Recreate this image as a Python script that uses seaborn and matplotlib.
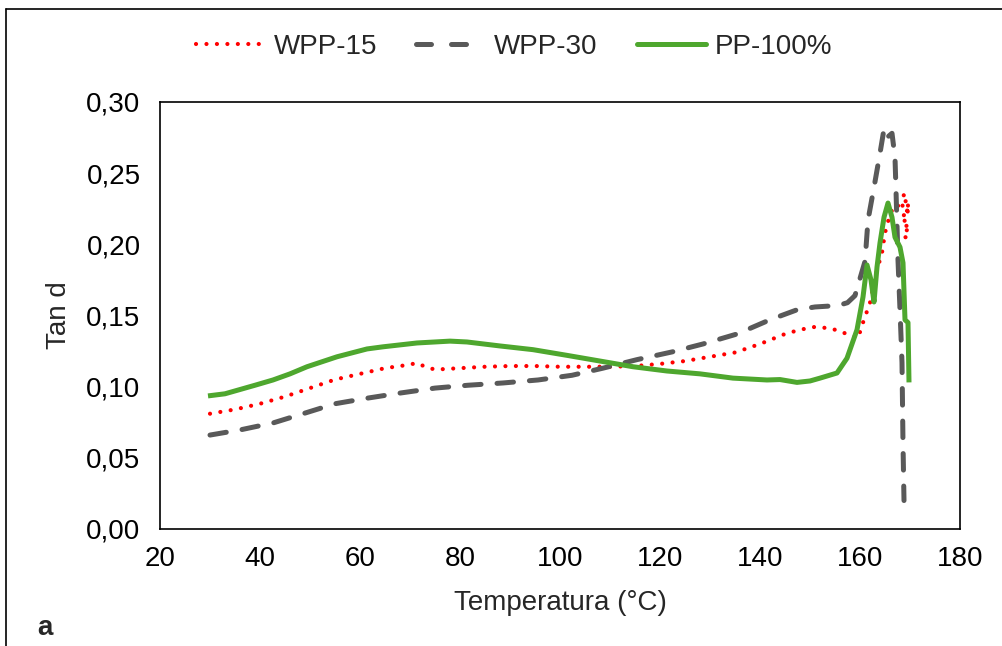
import numpy as np
import pandas as pd
import matplotlib
matplotlib.use("Agg")
import matplotlib.pyplot as plt
import seaborn as sns
from matplotlib.lines import Line2D
from matplotlib.ticker import FuncFormatter, MultipleLocator

# ---------------- data ----------------
wpp15_T = [30, 35, 40, 45, 50, 55, 60, 65, 69, 71.5, 73, 75, 80, 85, 90, 95, 100,
           105, 110, 115, 120, 125, 130, 135, 140, 145, 148, 151, 154, 156, 158,
           159.6, 160.6, 162, 163.4, 164.4, 165, 165.6, 166.6, 167.4, 168.4, 168.8,
           169.6, 168.6, 169.8, 168.6, 170.0, 168.6, 170.2]
wpp15_v = [0.081, 0.084, 0.088, 0.093, 0.099, 0.105, 0.109, 0.113, 0.115, 0.1166,
           0.114, 0.112, 0.113, 0.114, 0.1145, 0.1145, 0.114, 0.114, 0.114, 0.1145,
           0.116, 0.118, 0.121, 0.124, 0.130, 0.137, 0.140, 0.142, 0.141, 0.139,
           0.136, 0.134, 0.145, 0.159, 0.182, 0.194, 0.208, 0.216, 0.226, 0.228,
           0.224, 0.236, 0.222, 0.219, 0.229, 0.212, 0.214, 0.205, 0.205]

wpp30_T = [30, 36, 42.6, 48.6, 55, 61.6, 68, 75, 81.6, 88.6, 95.6, 102.4, 108.6,
           115.4, 122.4, 128.6, 135.4, 142, 147.4, 151, 155.6, 157.5, 159, 161,
           161.6, 163, 164, 164.8, 165.4, 166.4, 167, 167.2, 167.6, 168, 168.4,
           168.6, 168.8]
wpp30_v = [0.066, 0.0696, 0.0745, 0.081, 0.088, 0.092, 0.0955, 0.099, 0.101,
           0.1026, 0.1047, 0.108, 0.113, 0.119, 0.1244, 0.130, 0.137, 0.147, 0.154,
           0.156, 0.157, 0.159, 0.164, 0.188, 0.217, 0.244, 0.264, 0.281, 0.275,
           0.278, 0.261, 0.238, 0.189, 0.154, 0.117, 0.060, 0.020]

pp100_T = [29.6, 33, 36, 39, 42.6, 46, 49.4, 55.4, 61.4, 64.6, 71.4, 78, 81.4, 88,
           94.6, 101.4, 108, 114.6, 121.4, 128, 134.6, 141.4, 144, 147.4, 150, 152,
           155.4, 157.4, 159.4, 160.6, 161.4, 162.2, 162.8, 163.4, 164, 164.8,
           165.6, 166.4, 167, 168, 168.6, 169, 169.6, 169.8]
pp100_v = [0.0935, 0.095, 0.098, 0.101, 0.1047, 0.109, 0.114, 0.121, 0.1265, 0.128,
           0.1307, 0.132, 0.1314, 0.1286, 0.126, 0.122, 0.118, 0.114, 0.111, 0.109,
           0.106, 0.1047, 0.105, 0.103, 0.104, 0.106, 0.1096, 0.12, 0.140, 0.163,
           0.1855, 0.175, 0.1595, 0.184, 0.201, 0.219, 0.229, 0.219, 0.205, 0.198,
           0.187, 0.147, 0.145, 0.103]

series_labels = ["WPP-15", "WPP-30", "PP-100%"]
x_ticks = [20, 40, 60, 80, 100, 120, 140, 160, 180]

# ---------------- style ----------------
sns.set_style("white")
plt.rcParams['font.family'] = ['Liberation Sans', 'DejaVu Sans']

fig = plt.figure(figsize=(10.02, 6.46), dpi=100)
ax = fig.add_axes([160 / 1002, 1 - 529 / 646, 800 / 1002, 427 / 646])

red = "#FF0000"
gray = "#595959"
green = "#4EA72E"

d1 = pd.DataFrame({"T": wpp15_T, "v": wpp15_v})
d2 = pd.DataFrame({"T": wpp30_T, "v": wpp30_v})
d3 = pd.DataFrame({"T": pp100_T, "v": pp100_v})

sns.lineplot(data=d1, x="T", y="v", ax=ax, sort=False, estimator=None, color=red,
             linewidth=3.0, linestyle=(0, (0.01, 2.5)), dash_capstyle="round")
sns.lineplot(data=d2, x="T", y="v", ax=ax, sort=False, estimator=None, color=gray,
             linewidth=3.6, linestyle=(0, (3.3, 3.2)), dash_capstyle="round")
sns.lineplot(data=d3, x="T", y="v", ax=ax, sort=False, estimator=None, color=green,
             linewidth=3.6, solid_capstyle="butt", solid_joinstyle="round")

ax.set_xlim(20, 180)
ax.set_ylim(0, 0.30)
ax.set_xticks(x_ticks)
ax.yaxis.set_major_locator(MultipleLocator(0.05))
ax.yaxis.set_major_formatter(FuncFormatter(lambda v, p: f"{v:.2f}".replace(".", ",")))
ax.tick_params(axis="both", length=0, labelsize=20, colors="black")
ax.tick_params(axis="y", pad=14)
ax.tick_params(axis="x", pad=12)
for s in ax.spines.values():
    s.set_visible(True)
    s.set_color("black")
    s.set_linewidth(1.2)

ax.set_xlabel("Temperatura (°C)", fontsize=20, labelpad=13)
ax.set_ylabel("Tan d", fontsize=20, labelpad=10)

# legend
handles = [
    Line2D([], [], color=red, linewidth=3.0, linestyle=(0, (0.01, 2.5)), dash_capstyle="round"),
    Line2D([], [], color=gray, linewidth=3.6, linestyle=(0, (3.0, 4.0)), dash_capstyle="round"),
    Line2D([], [], color=green, linewidth=3.6),
]
fig.legend(handles, series_labels, loc="center", bbox_to_anchor=(514 / 1002, 1 - 47 / 646),
           ncol=3, frameon=False, fontsize=20, handlelength=2.5, handletextpad=0.3,
           columnspacing=1.4)

# outer frame (left and top edges)
fig.add_artist(Line2D([6 / 1002, 6 / 1002], [0, 1 - 9 / 646], transform=fig.transFigure,
                      color="black", linewidth=1.2))
fig.add_artist(Line2D([6 / 1002, 1], [1 - 9 / 646, 1 - 9 / 646], transform=fig.transFigure,
                      color="black", linewidth=1.2))

fig.text(45 / 1002, 1 - 628 / 646, "a", fontsize=20, fontweight="bold",
         ha="center", va="center")

fig.savefig("out.png", dpi=100)
